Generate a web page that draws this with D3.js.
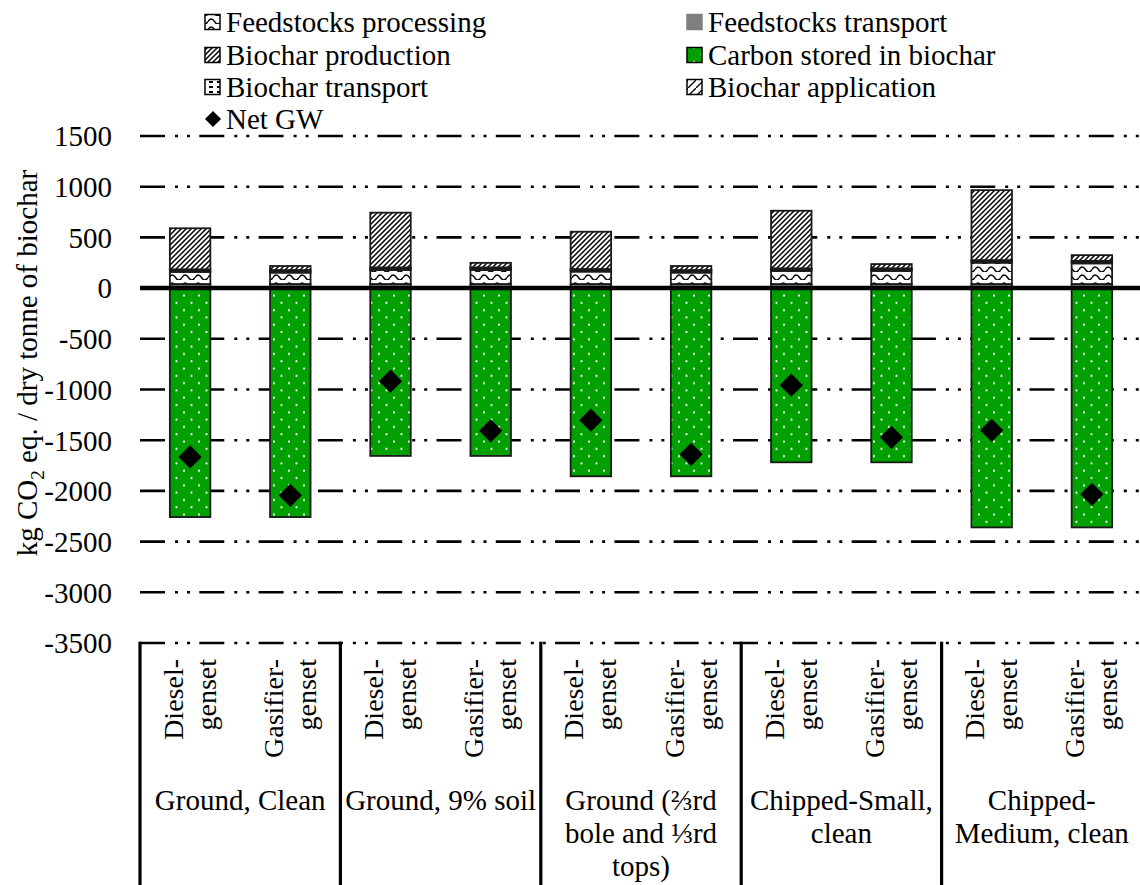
<!DOCTYPE html>
<html><head><meta charset="utf-8">
<script src="https://cdn.jsdelivr.net/npm/d3@7"></script>
<style>body{margin:0;background:#fff}</style>
</head><body><svg id="c" width="1140" height="885"></svg>
<script>
const bars = ["Diesel-genset","Gasifier-genset","Diesel-genset","Gasifier-genset","Diesel-genset","Gasifier-genset","Diesel-genset","Gasifier-genset","Diesel-genset","Gasifier-genset"];
const barLabelLines = [["Diesel-","genset"],["Gasifier-","genset"]];
const groups = ["Ground, Clean","Ground, 9% soil","Ground (⅔rd bole and ⅓rd tops)","Chipped-Small, clean","Chipped-Medium, clean"];
const groupLabelLines = [["Ground, Clean"],["Ground, 9% soil"],["Ground (⅔rd","bole and ⅓rd","tops)"],["Chipped-Small,","clean"],["Chipped-","Medium, clean"]];
const feedstocksTransport = [40,40,40,40,40,40,40,40,40,40];
const feedstocksProcessing = [120,113,139,139,123,113,130,130,211,204];
const biocharTransport = [15,15,15,15,15,15,15,15,15,15];
const biocharApplication = [10,10,10,10,10,10,10,10,10,10];
const biocharProduction = [405,40,540,45,368,40,568,42,690,56];
const carbonStored = [-2258,-2258,-1655,-1655,-1856,-1856,-1718,-1718,-2360,-2360];
const netGW = [-1665,-2043,-918,-1408,-1303,-1639,-958,-1471,-1402,-2034];
const yTicks = [1500,1000,500,0,-500,-1000,-1500,-2000,-2500,-3000,-3500];

const FONT = "'Liberation Serif', 'Times New Roman', Tinos, serif";
const svg = d3.select("#c");
const defs = svg.append("defs");
function pat(id,w,h){return defs.append("pattern").attr("id",id).attr("patternUnits","userSpaceOnUse").attr("width",w).attr("height",h);}
let p = pat("pGreen",15,14.6);
p.append("rect").attr("width",15).attr("height",14.6).attr("fill","#00a000");
p.append("circle").attr("cx",4).attr("cy",3.6).attr("r",1.1).attr("fill","#fff");
p.append("circle").attr("cx",11.5).attr("cy",10.9).attr("r",1.1).attr("fill","#fff");
p = pat("pHatch",5,5);
p.append("rect").attr("width",5).attr("height",5).attr("fill","#fff");
p.append("path").attr("d","M0,5L5,0M-1,1L1,-1M4,6L6,4").attr("stroke","#000").attr("stroke-width",1.5);
p = pat("pWave",13,8);
p.append("rect").attr("width",13).attr("height",8).attr("fill","#fff");
p.append("path").attr("d","M0,5.5Q3.25,0.5 6.5,5.5T13,5.5").attr("fill","none").attr("stroke","#000").attr("stroke-width",1.4);
p = pat("pBrick",8,5);
p.append("rect").attr("width",8).attr("height",5).attr("fill","#fff");
p.append("rect").attr("x",1).attr("y",1).attr("width",4).attr("height",2).attr("fill","#000");
p = pat("pApp",8,8);
p.append("rect").attr("width",8).attr("height",8).attr("fill","#fff");
p.append("path").attr("d","M0,8L8,0").attr("stroke","#000").attr("stroke-width",1.3);

const series = [
 {key:"Feedstocks processing", vals:feedstocksProcessing, fill:"url(#pWave)"},
 {key:"Feedstocks transport", vals:feedstocksTransport, fill:"#7f7f7f"},
 {key:"Biochar production", vals:biocharProduction, fill:"url(#pHatch)"},
 {key:"Carbon stored in biochar", vals:carbonStored, fill:"url(#pGreen)"},
 {key:"Biochar transport", vals:biocharTransport, fill:"url(#pBrick)"},
 {key:"Biochar application", vals:biocharApplication, fill:"url(#pApp)"}
];
const stackOrder = ["Feedstocks transport","Feedstocks processing","Biochar transport","Biochar application","Biochar production","Carbon stored in biochar"];
const rows = bars.map((b,i)=>{const r={i}; series.forEach(s=>r[s.key]=s.vals[i]); return r;});
const stacked = d3.stack().keys(stackOrder).offset(d3.stackOffsetDiverging)(rows);

const x0 = 140, x1 = 1142;
const x = d3.scaleBand().domain(d3.range(bars.length)).range([x0,x1]).paddingInner(0.596).paddingOuter(0.298);
const xg = d3.scaleBand().domain(d3.range(groups.length)).range([x0,x1]);
const y = d3.scaleLinear().domain([-3500,1500]).range([643,136]);

svg.append("g").selectAll("line").data(yTicks.filter(t=>t!==0)).join("line")
 .attr("x1",x0).attr("x2",1140).attr("y1",d=>y(d)).attr("y2",d=>y(d))
 .attr("stroke","#000").attr("stroke-width",2.6).attr("stroke-dasharray","25,10,3,9,3,9.3");
const yAxis = d3.axisLeft(y).tickValues(yTicks).tickSize(0).tickPadding(0).tickFormat(d=>String(d));
const ga = svg.append("g").attr("transform","translate(112,0)").call(yAxis);
ga.attr("font-family",FONT).attr("font-size",29);
ga.select(".domain").remove();
ga.selectAll("text").attr("font-size",29).attr("font-family",FONT).attr("fill","#000").attr("dy","0.34em");

const keyFill = Object.fromEntries(series.map(s=>[s.key,s.fill]));
svg.append("g").selectAll("g").data(stacked).join("g").attr("fill",d=>keyFill[d.key])
 .selectAll("rect").data(d=>d).join("rect")
 .attr("x",(d,i)=>x(i)).attr("width",x.bandwidth())
 .attr("y",d=>y(Math.max(d[0],d[1]))).attr("height",d=>Math.abs(y(d[0])-y(d[1])))
 .attr("stroke","#1a1a1a").attr("stroke-width",1.8);

svg.append("line").attr("x1",x0).attr("x2",1140).attr("y1",y(0)).attr("y2",y(0)).attr("stroke","#000").attr("stroke-width",4.5);

svg.append("g").selectAll("path").data(netGW).join("path")
 .attr("d",d3.symbol(d3.symbolSquare,270))
 .attr("transform",(d,i)=>`translate(${x(i)+x.bandwidth()/2},${y(d)}) rotate(45)`)
 .attr("fill","#000");

const bx = d3.range(groups.length+1).map(i=> i<groups.length ? xg(i) : x1);
svg.append("g").selectAll("line").data(bx).join("line")
 .attr("x1",d=>d).attr("x2",d=>d).attr("y1",y(-3500)-1.3).attr("y2",885)
 .attr("stroke","#000").attr("stroke-width",3.2);

bars.forEach((b,i)=>{
  const lines = barLabelLines[i%2];
  const cx = x(i)+x.bandwidth()/2;
  lines.forEach((t,k)=>{
    const lx = cx + (k-0.5)*33 + 9;
    svg.append("text").attr("transform",`translate(${lx},659) rotate(-90)`)
      .attr("text-anchor","end").attr("font-family",FONT).attr("font-size",28).attr("fill","#000").text(t);
  });
});
groups.forEach((g,i)=>{
  const cx = xg(i)+xg.bandwidth()/2;
  groupLabelLines[i].forEach((t,k)=>{
    svg.append("text").attr("x",cx).attr("y",810+k*33).attr("text-anchor","middle")
      .attr("font-family",FONT).attr("font-size",29).attr("fill","#000").text(t);
  });
});

const yt = svg.append("text").attr("transform","translate(37,363) rotate(-90)").attr("text-anchor","middle").attr("font-family",FONT).attr("font-size",29).attr("fill","#000");
yt.append("tspan").text("kg CO");
yt.append("tspan").attr("font-size",19).attr("dy",7).text("2");
yt.append("tspan").attr("dy",-7).text(" eq. / dry tonne of biochar");

const legendItems = [
 {key:"Feedstocks processing", x:204, y:22},
 {key:"Feedstocks transport", x:686, y:22},
 {key:"Biochar production", x:204, y:55},
 {key:"Carbon stored in biochar", x:686, y:55},
 {key:"Biochar transport", x:204, y:87},
 {key:"Biochar application", x:686, y:87},
 {key:"Net GW", x:204, y:119}
];
const lg = svg.append("g");
legendItems.forEach(it=>{
  if(it.key==="Net GW"){
    lg.append("path").attr("d",d3.symbol(d3.symbolSquare,130)).attr("transform",`translate(${it.x+9},${it.y}) rotate(45)`).attr("fill","#000");
  } else {
    lg.append("rect").attr("x",it.x+1).attr("y",it.y-7.5).attr("width",15).attr("height",15)
      .attr("fill",keyFill[it.key]).attr("stroke", it.key==="Feedstocks transport"?"#7f7f7f":"#000").attr("stroke-width",1.5);
  }
  lg.append("text").attr("x",it.x+22).attr("y",it.y).attr("dy","0.34em").attr("font-family",FONT).attr("font-size",29).attr("fill","#000").text(it.key);
});
</script></body></html>
